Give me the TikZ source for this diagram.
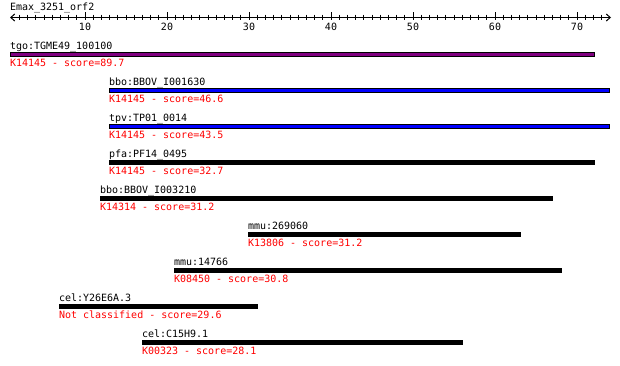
\documentclass[tikz,border=0pt]{standalone}
\usepackage{fontspec}
\setmainfont{DejaVu Sans Mono}
\usetikzlibrary{arrows.meta}
\definecolor{hitpurple}{HTML}{800080}
\definecolor{hitblue}{HTML}{0000FF}
\definecolor{kored}{HTML}{FF0000}
\begin{document}
\begin{tikzpicture}[x=1pt,y=-1pt,
  txt/.style={inner sep=0pt,outer sep=0pt,font=\fontsize{10}{12}\selectfont},
  hitlabel/.style={txt,anchor=base west,text=black},
  kolabel/.style={txt,anchor=base west,text=kored},
  ticklabel/.style={txt,anchor=base,text=black},
  axisline/.style={line width=1pt,{Straight Barb[length=4pt,width=7pt]}-{Straight Barb[length=4pt,width=7pt]}},
  minortick/.style={line width=1pt},
  majortick/.style={line width=1pt},
  hitbar/.style={draw=black,line width=1pt}]
\useasboundingbox (0,0) rectangle (620,365);
% title
\node[hitlabel] (title) at (10,10) {Emax\_3251\_orf2};
% axis
\coordinate (axL) at (10,17.5);
\coordinate (axR) at (611,17.5);
\draw[axisline] (axL) -- (axR);
\foreach \p in {2,...,73}{
  \draw[minortick] ({85+(\p-10)*8.2},14.5) -- ++(0,5);
}
\foreach \p in {10,20,...,70}{
  \draw[majortick] ({85+(\p-10)*8.2},12) -- ++(0,7.5);
  \node[ticklabel] (t\p) at ({85+(\p-10)*8.2},30) {\p};
}
% hits
\foreach \i/\xs/\xe/\col/\nm/\ko in {
  1/10/595/hitpurple/tgo:TGME49\_100100/K14145 - score=89.7,
  2/109/610/hitblue/bbo:BBOV\_I001630/K14145 - score=46.6,
  3/109/610/hitblue/tpv:TP01\_0014/K14145 - score=43.5,
  4/109/595/black/pfa:PF14\_0495/K14145 - score=32.7,
  5/100/553/black/bbo:BBOV\_I003210/K14314 - score=31.2,
  6/248/521/black/mmu:269060/K13806 - score=31.2,
  7/174/562/black/mmu:14766/K08450 - score=30.8,
  8/59/258/black/cel:Y26E6A.3/Not classified - score=29.6,
  9/142/463/black/cel:C15H9.1/K00323 - score=28.1}{
  \pgfmathsetmacro{\T}{52+36*(\i-1)}
  \node[hitlabel] (h\i) at (\xs,\T-3) {\nm};
  \filldraw[hitbar,fill=\col] (\xs+0.5,\T+0.5) rectangle (\xe-0.5,\T+4.5);
  \node[kolabel] (k\i) at (\xs,\T+14) {\ko};
}
\end{tikzpicture}
\end{document}
